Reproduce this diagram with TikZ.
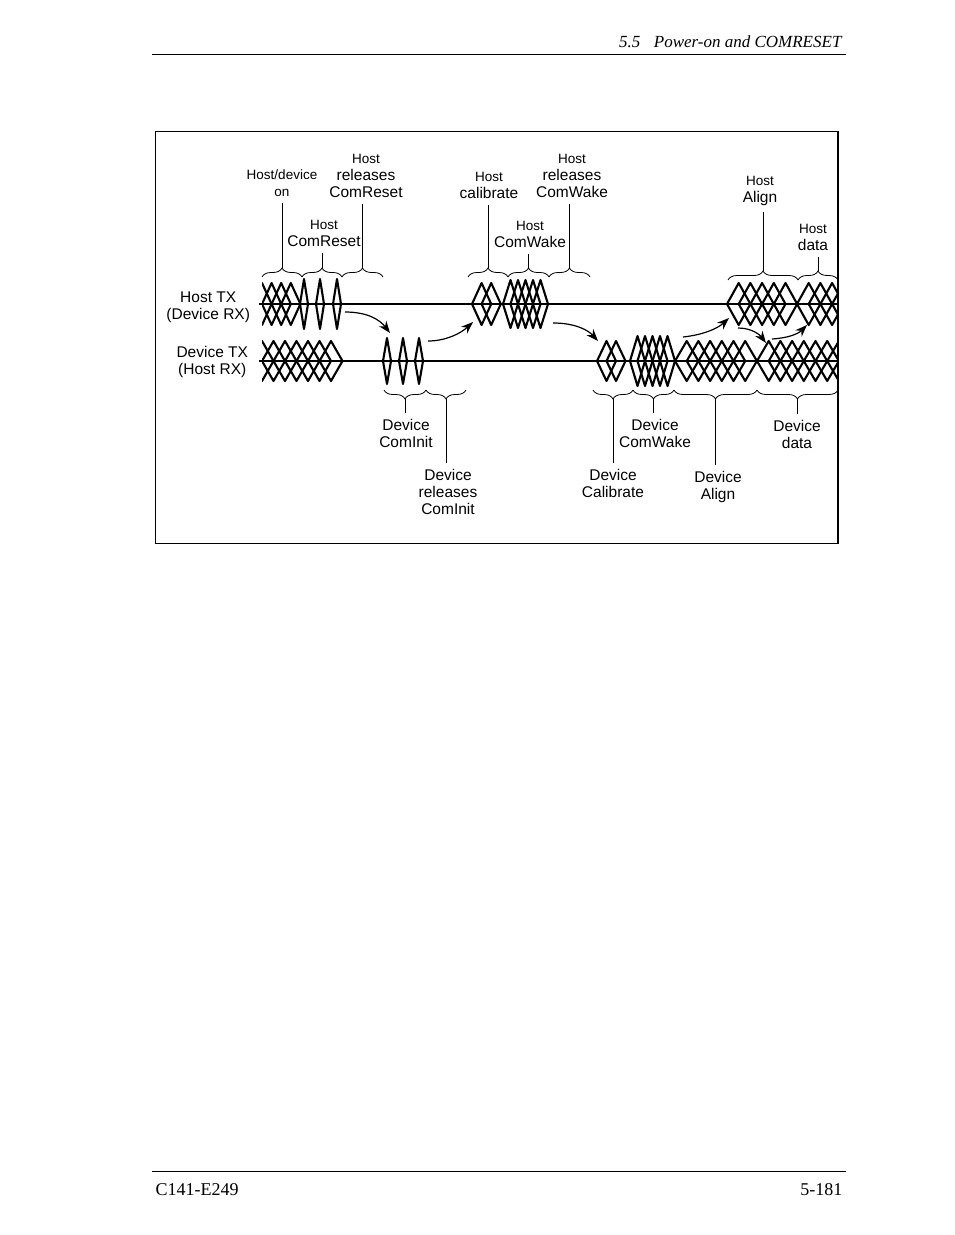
\documentclass[tikz,border=0pt]{standalone}
\usepackage{fontspec}
\setmainfont{Liberation Serif}
\newfontfamily\arialfont{Liberation Sans}
\usetikzlibrary{decorations.pathreplacing,arrows.meta}

\newcommand{\lblbig}{\arialfont\fontsize{15.5}{17}\selectfont}
\newcommand{\lblsmall}{\fontsize{13.5}{17}\selectfont}

\tikzset{
  sigline/.style={line width=2.2pt},
  eye/.style={line width=2.1pt, line join=round},
  bracetop/.style={decorate, decoration={brace, amplitude=9pt}, line width=0.8pt},
  bracebot/.style={decorate, decoration={brace, amplitude=9pt, mirror}, line width=0.8pt},
  leader/.style={line width=0.9pt},
  hand/.style={line width=1.2pt, -{Stealth[length=12pt,width=9pt]}},
  lbl/.style={font=\lblbig, align=center, inner sep=0pt, outer sep=3pt},
}

% overlapping diamonds: x0, step, first, last, y centre, half height
\newcommand{\eyerun}[6]{%
  \foreach \k in {#3,...,#4}{%
    \draw[eye] ({#1+\k*#2},#5) -- ++(#2,-#6) -- ++(#2,#6) -- ++(-#2,#6) -- cycle;}}

\begin{document}
\begin{tikzpicture}[x=1pt,y=-1pt]
    \useasboundingbox (0,0) rectangle (954,1235);

    % page header and footer
    \draw[line width=0.8pt] (152,54) -- (846,54);
    \node[anchor=base east, font=\fontsize{17}{20}\selectfont\itshape] (head) at (845,47) {5.5\hspace{0.8em}Power-on and COMRESET};
    \draw[line width=0.8pt] (152,1171) -- (846,1171);
    \node[anchor=base west, font=\fontsize{18}{20}\selectfont] (docno) at (152,1195) {C141-E249};
    \node[anchor=base east, font=\fontsize{18}{20}\selectfont] (pageno) at (846,1195) {5-181};

    % frame
    \draw[line width=0.8pt] (155,131) rectangle (838,543);
    \draw[line width=2.5pt] (838,131) -- (838,543);

    % signal lines
    \draw[sigline] (259,304) -- (838,304);
    \draw[sigline] (259,361) -- (838,361);

    \node[lbl, anchor=east] (hosttx) at (253,307.5) {Host TX\\(Device RX)};
    \node[lbl, anchor=east] (devtx) at (251,361.5) {Device TX\\(Host RX)};

    % host TX patterns
    \begin{scope}
        \clip (262,240) rectangle (301,340);
        \eyerun{262}{9.6}{-1}{2}{304}{21}
    \end{scope}
    \foreach \xx in {300,316,333} {\eyerun{\xx}{4}{0}{0}{304}{25}}
    \eyerun{472}{9.6}{0}{1}{304}{21}
    \eyerun{503}{7.5}{0}{4}{304}{24}
    \eyerun{727}{11.7}{0}{4}{304}{21}
    \begin{scope}
        \clip (797,240) rectangle (838,340);
        \eyerun{797}{11.7}{0}{3}{304}{21}
    \end{scope}

    % device TX patterns
    \begin{scope}
        \clip (262,300) rectangle (343,400);
        \eyerun{262}{11.5}{-1}{5}{361}{20}
    \end{scope}
    \foreach \xx in {383,399,415} {\eyerun{\xx}{4}{0}{0}{361}{23}}
    \eyerun{597}{9.5}{0}{1}{361}{20}
    \eyerun{630}{7.5}{0}{4}{361}{25}
    \eyerun{675}{11.7}{0}{5}{361}{20}
    \begin{scope}
        \clip (757,300) rectangle (838,400);
        \eyerun{757}{11.7}{0}{6}{361}{20}
    \end{scope}

    % handshake arrows
    \coordinate (hResetEnd) at (345,312);
    \coordinate (dInitIn) at (390,333);
    \coordinate (dInitEnd) at (428,341);
    \coordinate (hCalIn) at (473,322);
    \coordinate (hWakeEnd) at (553,323);
    \coordinate (dCalIn) at (598,341);
    \coordinate (dWakeEnd) at (683,337);
    \coordinate (hAlignIn) at (729,318);
    \coordinate (hAlignEnd) at (738,328);
    \coordinate (dDataIn) at (766,343);
    \coordinate (dDataEnd) at (772,339);
    \coordinate (hDataIn) at (807,325);
    \draw[hand] (hResetEnd) .. controls +(23,0) and +(-10,-13) .. (dInitIn);
    \draw[hand] (dInitEnd) .. controls +(17,0) and +(-13,12) .. (hCalIn);
    \draw[hand] (hWakeEnd) .. controls +(22,0) and +(-10,-11) .. (dCalIn);
    \draw[hand] (dWakeEnd) .. controls +(19,-2) and +(-12,11) .. (hAlignIn);
    \draw[hand] (hAlignEnd) .. controls +(14,0) and +(-6,-8) .. (dDataIn);
    \draw[hand] (dDataEnd) .. controls +(16,-1) and +(-9,9) .. (hDataIn);

    % host braces
    \draw[bracetop] (262,277) -- (302,277);
    \draw[bracetop] (302,277) -- (342,277);
    \draw[bracetop] (342,277) -- (383,277);
    \draw[bracetop] (468,277) -- (508,277);
    \draw[bracetop] (508,277) -- (549,277);
    \draw[bracetop] (549,277) -- (590,277);
    \draw[bracetop] (728,280) -- (798,280);
    \draw[bracetop] (798,280) -- (838,280);
    \coordinate (tipOn) at (282,268);
    \coordinate (tipReset) at (322,268);
    \coordinate (tipRelReset) at (362.5,268);
    \coordinate (tipCal) at (488,268);
    \coordinate (tipWake) at (528.5,268);
    \coordinate (tipRelWake) at (569.5,268);
    \coordinate (tipAlign) at (763,271);
    \coordinate (tipData) at (818,271);

    % device braces
    \draw[bracebot] (384,390) -- (426,390);
    \draw[bracebot] (426,390) -- (466,390);
    \draw[bracebot] (593,390) -- (633,390);
    \draw[bracebot] (633,390) -- (674,390);
    \draw[bracebot] (674,390) -- (757,390);
    \draw[bracebot] (757,390) -- (838,390);
    \coordinate (tipDInit) at (405,399);
    \coordinate (tipDRel) at (446,399);
    \coordinate (tipDCal) at (613,399);
    \coordinate (tipDWake) at (653.5,399);
    \coordinate (tipDAlign) at (715.5,399);
    \coordinate (tipDData) at (797.5,399);

    % host labels
    \node[lbl, anchor=south] (lblOn) at (282,200) {{\lblsmall Host/device}\\{\lblsmall on}};
    \node[lbl, anchor=south] (lblRelReset) at (366,201) {{\lblsmall Host}\\releases\\ComReset};
    \node[lbl, anchor=south] (lblReset) at (324,250) {{\lblsmall Host}\\ComReset};
    \node[lbl, anchor=south] (lblCal) at (489,202) {{\lblsmall Host}\\calibrate};
    \node[lbl, anchor=south] (lblRelWake) at (572,201) {{\lblsmall Host}\\releases\\ComWake};
    \node[lbl, anchor=south] (lblWake) at (530,251) {{\lblsmall Host}\\ComWake};
    \node[lbl, anchor=south] (lblAlign) at (760,209) {{\lblsmall Host}\\Align};
    \node[lbl, anchor=south] (lblData) at (813,254) {{\lblsmall Host}\\data};

    % device labels
    \node[lbl, anchor=north] (lblDInit) at (406,416) {Device\\ComInit};
    \node[lbl, anchor=north] (lblDRel) at (448,466) {Device\\releases\\ComInit};
    \node[lbl, anchor=north] (lblDCal) at (613,466) {Device\\Calibrate};
    \node[lbl, anchor=north] (lblDWake) at (655,416) {Device\\ComWake};
    \node[lbl, anchor=north] (lblDAlign) at (718,468) {Device\\Align};
    \node[lbl, anchor=north] (lblDData) at (797,417) {Device\\data};

    % leaders
    \foreach \lb/\tp in {lblOn/tipOn, lblRelReset/tipRelReset, lblReset/tipReset, lblCal/tipCal,
                         lblRelWake/tipRelWake, lblWake/tipWake, lblAlign/tipAlign, lblData/tipData}
        \draw[leader, shorten <=3pt] (\tp |- \lb.south) -- (\tp);
    \foreach \lb/\tp in {lblDInit/tipDInit, lblDRel/tipDRel, lblDCal/tipDCal,
                         lblDWake/tipDWake, lblDAlign/tipDAlign, lblDData/tipDData}
        \draw[leader, shorten >=3pt] (\tp) -- (\tp |- \lb.north);

\end{tikzpicture}
\end{document}
